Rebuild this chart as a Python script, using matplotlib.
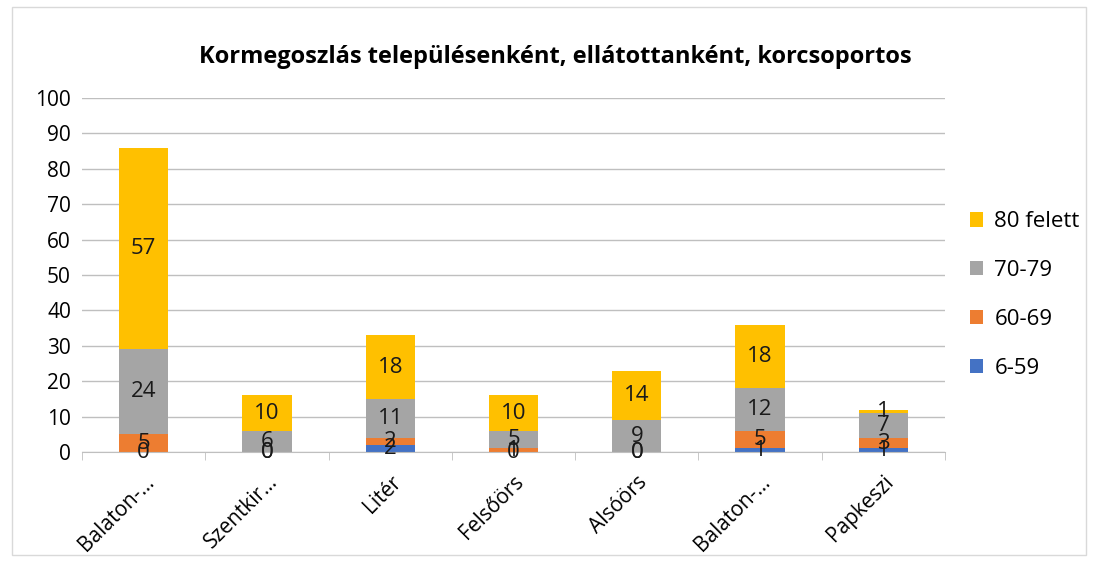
import numpy as np
import matplotlib.pyplot as plt

# -----------------------------
# Data
# -----------------------------
categories = ["Balaton-…", "Szentkir…", "Litér", "Felsőörs", "Alsóörs", "Balaton-…", "Papkeszi"]
series_names = ["6-59", "60-69", "70-79", "80 felett"]
v_6_59 = [0, 0, 2, 0, 0, 1, 1]
v_60_69 = [5, 0, 2, 1, 0, 5, 3]
v_70_79 = [24, 6, 11, 5, 9, 12, 7]
v_80 = [57, 10, 18, 10, 14, 18, 1]
colors = ["#4472C4", "#ED7D31", "#A5A5A5", "#FFC000"]

plt.rcParams['font.family'] = ['Open Sans', 'DejaVu Sans']

fig = plt.figure(figsize=(10.99, 5.67), dpi=100)
ax = fig.add_axes([82 / 1099, 1 - 452 / 567, (945 - 82) / 1099, (452 - 98) / 567])

# chart border
fig.patches.append(plt.Rectangle((12 / 1099, 12 / 567), 1074 / 1099, 548 / 567,
                                 transform=fig.transFigure, fill=False,
                                 edgecolor="#D9D9D9", linewidth=1))

x = np.arange(len(categories))
bottom = np.zeros(len(categories))
handles = []
for name, vals, col in zip(series_names, [v_6_59, v_60_69, v_70_79, v_80], colors):
    vals = np.array(vals)
    b = ax.bar(x, vals, 0.4, bottom=bottom, color=col, label=name, zorder=2)
    handles.append(b)
    for xi, v, bt in zip(x, vals, bottom):
        ax.text(xi, bt + v / 2, str(v), ha="center", va="center",
                fontsize=16, color="#1a1a1a", zorder=3)
    bottom += vals

ax.set_xlim(-0.5, len(categories) - 0.5)
ax.set_ylim(0, 100)
ax.set_yticks(range(0, 101, 10))
ax.yaxis.grid(True, color="#BFBFBF", linewidth=1, zorder=0)
ax.set_axisbelow(True)
for s in ["top", "right", "left"]:
    ax.spines[s].set_visible(False)
ax.spines["bottom"].set_color("#BFBFBF")
ax.tick_params(axis="y", length=0, labelsize=15, pad=8)
ax.set_xticks(x)
ax.set_xticklabels(categories, rotation=45, ha="right", rotation_mode="anchor",
                   fontsize=15)
ax.set_xticks(np.arange(-0.5, len(categories), 1), minor=True)
ax.tick_params(axis="x", which="major", length=0, pad=14)
ax.tick_params(axis="x", which="minor", length=6, color="#BFBFBF")

fig.text(555 / 1099, 1 - 57 / 567, "Kormegoszlás településenként, ellátottanként, korcsoportos",
         ha="center", va="center", fontsize=17, fontweight="bold")

leg = fig.legend(handles[::-1], series_names[::-1], loc="center left",
                 bbox_to_anchor=(950 / 1099, 1 - 295 / 567), frameon=False,
                 fontsize=16, handlelength=0.6, handleheight=0.6,
                 labelspacing=1.25, handletextpad=0.5)

fig.savefig("out.png", dpi=100)
